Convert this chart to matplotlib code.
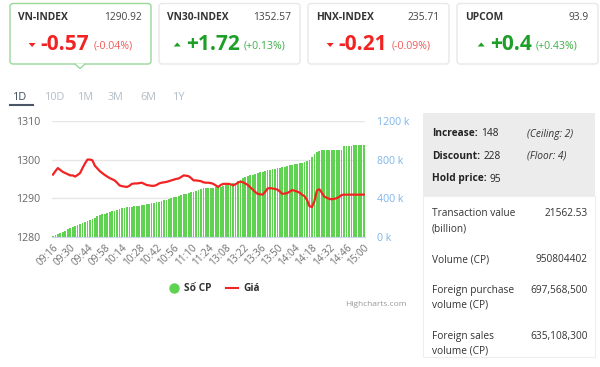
import matplotlib.pyplot as plt
from matplotlib.patches import FancyBboxPatch, Polygon, Rectangle

plt.rcParams['font.family'] = ['Open Sans', 'DejaVu Sans']

# index cards on top
index_names = ['VN-INDEX', 'VN30-INDEX', 'HNX-INDEX', 'UPCOM']
index_values = ['1290.92', '1352.57', '235.71', '93.9']
index_changes = ['-0.57', '+1.72', '-0.21', '+0.4']
index_pcts = ['(-0.04%)', '(+0.13%)', '(-0.09%)', '(+0.43%)']

ranges = ['1D', '10D', '1M', '3M', '6M', '1Y']

# intraday chart (one bar per 2 minutes)
time_labels = ['09:16', '09:30', '09:44', '09:58', '10:14', '10:28', '10:42',
               '10:56', '11:10', '11:24', '13:08', '13:22', '13:36', '13:50',
               '14:04', '14:18', '14:32', '14:46', '15:00']

volume_k = [8, 18, 28, 40, 50, 62, 75, 88, 100, 110,
            122, 133, 143, 152, 162, 176, 186, 197, 210, 225,
            235, 240, 250, 256, 262, 270, 282, 290, 296, 300,
            303, 306, 311, 315, 318, 323, 328, 332, 336, 342,
            346, 352, 358, 365, 372, 378, 385, 392, 400, 407,
            414, 422, 430, 440, 448, 455, 462, 468, 475, 485,
            495, 500, 503, 505, 506, 508, 512, 514, 518, 525,
            532, 538, 545, 553, 562, 575, 590, 605, 618, 628,
            636, 645, 652, 660, 668, 675, 682, 688, 695, 700,
            705, 710, 715, 720, 726, 732, 740, 746, 752, 758,
            763, 768, 774, 780, 800, 830, 858, 875, 888, 895,
            899, 899, 899, 899, 899, 899, 899, 900, 938, 940,
            941, 942, 950, 951, 951, 951, 951]

price = [1296.1, 1297.0, 1297.8, 1297.3, 1296.8, 1296.5, 1296.2, 1295.9, 1295.9, 1295.6,
         1296.0, 1296.5, 1297.8, 1299.0, 1300.0, 1300.0, 1299.8, 1298.4, 1297.7, 1297.0,
         1296.5, 1296.0, 1295.6, 1295.2, 1294.9, 1294.6, 1294.0, 1293.3, 1293.1, 1293.0,
         1292.9, 1293.2, 1293.7, 1293.8, 1293.8, 1293.9, 1294.0, 1293.7, 1293.4, 1293.3,
         1293.2, 1293.2, 1293.4, 1293.8, 1294.0, 1294.1, 1294.2, 1294.4, 1294.6, 1294.8,
         1295.0, 1295.1, 1295.5, 1295.9, 1295.8, 1295.7, 1295.2, 1294.6, 1294.6, 1294.5,
         1294.4, 1294.1, 1294.0, 1294.0, 1293.9, 1293.7, 1293.3, 1292.9, 1293.4, 1293.7,
         1293.7, 1293.7, 1293.6, 1293.3, 1293.6, 1294.0, 1294.3, 1294.1, 1293.8, 1293.4,
         1292.8, 1292.2, 1291.6, 1291.1, 1291.0, 1290.9, 1291.6, 1292.5, 1292.6, 1292.5,
         1292.4, 1292.2, 1291.7, 1291.1, 1291.2, 1291.3, 1291.7, 1292.1, 1291.9, 1291.7,
         1291.4, 1290.9, 1290.5, 1289.5, 1287.9, 1287.7, 1289.2, 1292.0, 1292.3, 1291.4,
         1290.4, 1290.1, 1289.8, 1289.7, 1289.8, 1290.0, 1290.3, 1290.8, 1290.9, 1290.9,
         1290.9, 1290.9, 1290.9, 1290.9, 1290.9, 1290.9, 1290.92]

# side panel
breadth_labels = ['Increase:', 'Discount:', 'Hold price:']
breadth_values = ['148', '228', '95']
breadth_notes = ['(Ceiling: 2)', '(Floor: 4)', '']
stat_labels = [['Transaction value', '(billion)'], ['Volume (CP)'],
               ['Foreign purchase', 'volume (CP)'], ['Foreign sales', 'volume (CP)']]
stat_values = ['21562.53', '950804402', '697,568,500', '635,108,300']

RED = '#f22323'
GREEN = '#1e9f28'
BAR_GREEN = '#5fd252'

fig = plt.figure(figsize=(6, 3.67), dpi=100)

# overlay in pixel coordinates for the dashboard parts
ov = fig.add_axes([0, 0, 1, 1])
ov.set_xlim(0, 600)
ov.set_ylim(367, 0)
ov.axis('off')
renderer = fig.canvas.get_renderer()


def width_of(t):
    return t.get_window_extent(renderer).width


# index cards
for k in range(4):
    left = 10 + k * 149
    edge = '#9ad89a' if k == 0 else '#e8e8e8'
    ov.add_patch(FancyBboxPatch((left, 3.5), 141, 60.5,
                                boxstyle='round,pad=0,rounding_size=3',
                                fc='white', ec=edge, lw=1))
    ov.text(left + 8, 18, index_names[k], fontsize=7.4, fontweight='bold',
            color='#333333', va='center')
    ov.text(left + 132, 18, index_values[k], fontsize=7.4, color='#444444',
            va='center', ha='right')
    up = index_changes[k].startswith('+')
    col = GREEN if up else RED
    pcol = '#3fae46' if up else '#f05a5a'
    big = ov.text(0, 45, index_changes[k], fontsize=15, fontweight='bold',
                  color=col, va='center')
    small = ov.text(0, 46, index_pcts[k], fontsize=7.6, color=pcol, va='center')
    wb, ws = width_of(big), width_of(small)
    total = 7 + 5 + wb + 4 + ws
    x0 = left + 70.5 - total / 2
    if up:
        tri = [(x0, 46.5), (x0 + 7, 46.5), (x0 + 3.5, 42.5)]
    else:
        tri = [(x0, 43), (x0 + 7, 43), (x0 + 3.5, 47)]
    ov.add_patch(Polygon(tri, closed=True, fc=col, ec='none'))
    big.set_x(x0 + 12)
    small.set_x(x0 + 12 + wb + 4)

# pointer below the active card
ov.add_patch(Polygon([(75, 63.5), (80, 68.5), (85, 63.5)], closed=True,
                     fc='white', ec='none', zorder=3))
ov.plot([75, 80, 85], [64, 68.5, 64], color='#9ad89a', lw=1, zorder=4)

# range tabs
tab_x = [13, 45, 78, 108, 140, 173]
for k, r in enumerate(ranges):
    ov.text(tab_x[k], 98, r, fontsize=7.8, va='center',
            color='#3f4a5a' if k == 0 else '#b4bcc6')
ov.plot([10, 33], [105, 105], color='#4a5568', lw=1.5)

# side panel
ov.add_patch(Rectangle((423, 113), 172, 83, fc='#ececec', ec='none'))
ov.add_patch(Rectangle((423, 196), 172, 161, fc='white', ec='#eeeeee', lw=0.8))
for k in range(3):
    y = 134 + k * 22.5
    lab = ov.text(432, y, breadth_labels[k], fontsize=7.3, fontweight='bold',
                  color='#222222', va='center')
    ov.text(432 + width_of(lab) + 3, y, breadth_values[k], fontsize=7.3,
            color='#222222', va='center')
    ov.text(527, y, breadth_notes[k], fontsize=7.3, style='italic',
            color='#333333', va='center')
stat_y = [214, 260, 290, 336]
for k in range(4):
    for j, line in enumerate(stat_labels[k]):
        ov.text(432, stat_y[k] + j * 15, line, fontsize=7.3, color='#333333',
                va='center')
    ov.text(588, stat_y[k], stat_values[k], fontsize=7.3, color='#333333',
            va='center', ha='right')

# legend and credit
ov.plot([173.5], [288], 'o', color=BAR_GREEN, markersize=6.5)
ov.text(184, 288.5, 'Số CP', fontsize=7.3, fontweight='bold', color='#333333',
        va='center')
ov.plot([226, 238], [288, 288], color=RED, lw=1.5)
ov.text(243, 288.5, 'Giá', fontsize=7.3, fontweight='bold', color='#333333',
        va='center')
ov.text(407, 305, 'Highcharts.com', fontsize=6, color='#999999', ha='right',
        va='center')

# intraday chart: bars on the right axis, price on the left axis
ax = fig.add_axes([51.7 / 600, 1 - 236.7 / 367, 313.3 / 600, 115.7 / 367])
ax2 = ax.twinx()
x = list(range(len(volume_k)))

ax.bar(x, volume_k, width=0.72, color=BAR_GREEN, linewidth=0)
ax.set_xlim(-0.5, len(volume_k) - 0.5)
ax.set_ylim(0, 1200)
ax.yaxis.tick_right()
ax.set_yticks([0, 400, 800, 1200])
ax.set_yticklabels(['0 k', '400 k', '800 k', '1200 k'])
ax.tick_params(axis='y', which='both', left=False, labelleft=False,
               right=False, labelright=True, length=0, pad=8.5,
               labelsize=7.6, labelcolor='#7cb5ec')
ax.set_axisbelow(True)
ax.grid(axis='y', color='#e6e6e6', lw=1)
ax.set_xticks(x[::7])
ax.set_xticklabels(time_labels, rotation=45, ha='right', rotation_mode='anchor')
ax.tick_params(axis='x', length=0, pad=4, labelsize=7.2, labelcolor='#707070')
for s in ['top', 'left', 'right']:
    ax.spines[s].set_visible(False)
ax.spines['bottom'].set_color('#ccd6eb')

ax2.plot(x, price, color=RED, lw=1.6)
ax2.set_ylim(1280, 1310)
ax2.set_yticks([1280, 1290, 1300, 1310])
ax2.tick_params(axis='y', which='both', left=False, labelleft=True,
                right=False, labelright=False, length=0, pad=8.5,
                labelsize=7.6, labelcolor='#666666')
for s in ax2.spines.values():
    s.set_visible(False)

fig.savefig('out.png', dpi=100)
